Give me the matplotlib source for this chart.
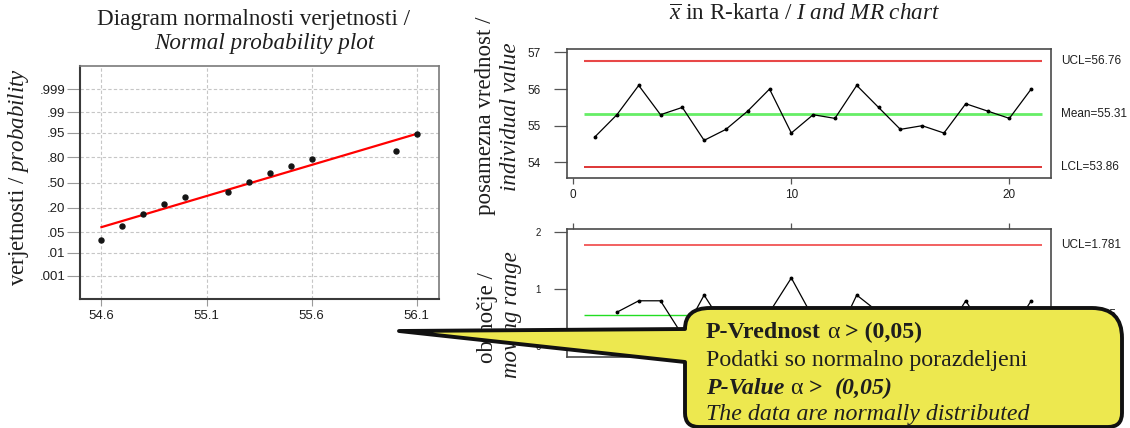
import numpy as np
import matplotlib
matplotlib.use("Agg")
import matplotlib.pyplot as plt
from matplotlib.path import Path
from matplotlib.patches import PathPatch
from matplotlib.transforms import Affine2D, blended_transform_factory
from matplotlib.ticker import NullLocator
from statistics import NormalDist

# ---------------- data ----------------
# normal probability plot
prob_x = [54.6, 54.7, 54.8, 54.9, 55.0, 55.2, 55.3, 55.4, 55.5, 55.6, 56.0, 56.1]
prob_p = [0.029, 0.075, 0.147, 0.237, 0.311, 0.377, 0.508, 0.618, 0.711, 0.782, 0.852, 0.948]
fit_x = [54.6, 56.1]
fit_p = [0.069, 0.947]
prob_ticks = [0.001, 0.01, 0.05, 0.20, 0.50, 0.80, 0.95, 0.99, 0.999]
prob_tick_labels = [".001", ".01", ".05", ".20", ".50", ".80", ".95", ".99", ".999"]
prob_x_ticks = [54.6, 55.1, 55.6, 56.1]

# individuals chart
obs = list(range(1, 22))
individual = [54.7, 55.3, 56.1, 55.3, 55.5, 54.6, 54.9, 55.4, 56.0, 54.8, 55.3,
              55.2, 56.1, 55.5, 54.9, 55.0, 54.8, 55.6, 55.4, 55.2, 56.0]
i_ucl, i_mean, i_lcl = 56.76, 55.31, 53.86
i_yticks = [54, 55, 56, 57]

# moving range chart
mr_obs = list(range(2, 22))
mr_values = [0.6, 0.8, 0.8, 0.2, 0.9, 0.3, 0.5, 0.6, 1.2, 0.5,
             0.1, 0.9, 0.6, 0.6, 0.1, 0.2, 0.8, 0.2, 0.2, 0.8]
mr_ucl, mr_mean, mr_lcl = 1.781, 0.545, 0.0
mr_yticks = [0, 1, 2]
obs_ticks = [0, 10, 20]

# ---------------- style ----------------
SERIF = "Liberation Serif"
SANS = "Liberation Sans"
plt.rcParams["mathtext.fontset"] = "custom"
plt.rcParams["mathtext.rm"] = SERIF
plt.rcParams["mathtext.it"] = SERIF + ":italic"
plt.rcParams["mathtext.bf"] = SERIF + ":bold"
plt.rcParams["font.family"] = [SANS, "DejaVu Sans"]

W, H = 1130, 428
fig = plt.figure(figsize=(W / 100, H / 100), dpi=100)
fig.patch.set_facecolor("white")


def rect(l, t, r, b):
    return [l / W, 1 - b / H, (r - l) / W, (b - t) / H]


def fx(x):
    return x / W


def fy(y):
    return 1 - y / H


TXT = "#1e1e1e"
TS = 16.7   # title size
LS = 16.5   # axis label size

# ---------------- normal probability plot ----------------
_nd = NormalDist()
_ppf = np.vectorize(lambda p: _nd.inv_cdf(p), otypes=[float])
_cdf = np.vectorize(lambda z: _nd.cdf(z), otypes=[float])


def fwd(p):
    return _ppf(np.clip(np.asarray(p, dtype=float), 1e-12, 1 - 1e-12))


def inv(z):
    return _cdf(np.asarray(z, dtype=float))


axp = fig.add_axes(rect(80, 65.7, 438.7, 299.3))
axp.set_yscale("function", functions=(fwd, inv))
axp.plot(fit_x, fit_p, color="#ff0000", lw=1.6, zorder=3)
axp.plot(prob_x, prob_p, "o", ms=3.6, color="#151515", zorder=4)
axp.set_xlim(54.498, 56.205)
axp.set_ylim(_nd.cdf(-3.88), _nd.cdf(3.88))
axp.set_yticks(prob_ticks)
axp.set_yticklabels(prob_tick_labels)
axp.yaxis.set_minor_locator(NullLocator())
axp.set_xticks(prob_x_ticks)
axp.set_xticklabels([f"{v:.1f}" for v in prob_x_ticks])
axp.grid(True, ls=(0, (3, 2)), color="#c6c6c6", lw=0.8)
axp.set_axisbelow(True)
axp.tick_params(axis="y", length=9.5, width=0.8, color="#9a9a9a", labelsize=9.5, pad=1, labelcolor=TXT)
axp.tick_params(axis="x", length=5, width=0.8, color="#9a9a9a", labelsize=9.5, pad=3, labelcolor=TXT)
for s in ["left", "bottom"]:
    axp.spines[s].set_color("#3a3a3a")
    axp.spines[s].set_linewidth(1.5)
for s in ["top", "right"]:
    axp.spines[s].set_color("#7a7a7a")
    axp.spines[s].set_linewidth(1.2)

fig.text(fx(253.5), fy(20), "Diagram normalnosti verjetnosti /", family=SERIF,
         fontsize=TS, ha="center", va="center", color=TXT)
fig.text(fx(264), fy(43), "Normal probability plot", family=SERIF, style="italic",
         fontsize=TS, ha="center", va="center", color=TXT)
fig.text(fx(19), fy(177), r"verjetnosti / $\mathit{probability}$", family=SERIF,
         fontsize=LS, rotation=90, ha="center", va="center", color=TXT)

# ---------------- individuals chart ----------------
axi = fig.add_axes(rect(566.7, 48.8, 1051, 177.7))
lim_x0, lim_x1 = 0.5, 21.5
axi.hlines(i_ucl, lim_x0, lim_x1, color="#e84848", lw=1.5, zorder=2)
axi.hlines(i_mean, lim_x0, lim_x1, color="#66ee66", lw=2.0, zorder=2)
axi.hlines(i_lcl, lim_x0, lim_x1, color="#d40000", lw=1.1, zorder=2)
axi.plot(obs, individual, color="black", lw=0.9, marker="o", ms=1.8, zorder=3)
axi.set_xlim(-0.303, 21.91)
axi.set_ylim(53.58, 57.1)
axi.set_yticks(i_yticks)
axi.set_xticks(obs_ticks)
axi.tick_params(axis="y", length=9.5, width=0.9, color="#555", labelsize=8.5, pad=9, labelcolor=TXT)
axi.tick_params(axis="x", length=4, width=0.9, color="#555", labelsize=8.5, pad=4, labelcolor=TXT)
for s in axi.spines.values():
    s.set_color("#4a4a4a")
    s.set_linewidth(1.2)

bt = blended_transform_factory(fig.transFigure, axi.transData)
for val, lab in [(i_ucl, f"UCL={i_ucl:.2f}"), (i_mean, f"Mean={i_mean:.2f}"), (i_lcl, f"LCL={i_lcl:.2f}")]:
    axi.text(fx(1061), val, lab, transform=bt, fontsize=8.5, va="center", ha="left",
             color=TXT, clip_on=False)

fig.text(fx(804.5), fy(15), r"$\overline{x}$ in R-karta / $\mathit{I\ and\ MR\ chart}$",
         family=SERIF, fontsize=TS, ha="center", va="center", color=TXT)
fig.text(fx(485), fy(116), "posamezna vrednost /", family=SERIF, fontsize=LS,
         rotation=90, ha="center", va="center", color=TXT)
fig.text(fx(511), fy(117), "individual value", family=SERIF, style="italic", fontsize=LS,
         rotation=90, ha="center", va="center", color=TXT)

# ---------------- moving range chart ----------------
axm = fig.add_axes(rect(566.7, 229.3, 1051, 356.7))
axm.hlines(mr_ucl, lim_x0, lim_x1, color="#f26060", lw=1.4, zorder=2)
axm.hlines(mr_mean, lim_x0, lim_x1, color="#22dd22", lw=1.0, zorder=2)
axm.hlines(mr_lcl, lim_x0, lim_x1, color="#d40000", lw=1.0, zorder=2)
axm.plot(mr_obs, mr_values, color="black", lw=0.9, marker="o", ms=1.8, zorder=3)
axm.set_xlim(-0.303, 21.91)
axm.set_ylim(-0.18, 2.053)
axm.set_yticks(mr_yticks)
axm.set_xticks(obs_ticks)
axm.tick_params(axis="x", top=True, bottom=False, labelbottom=False, labeltop=False,
                length=4, width=0.9, color="#555")
axm.tick_params(axis="y", length=9.5, width=0.9, color="#555", labelsize=7, pad=9, labelcolor=TXT)
for s in axm.spines.values():
    s.set_color("#4a4a4a")
    s.set_linewidth(1.2)
bt2 = blended_transform_factory(fig.transFigure, axm.transData)
for val, lab in [(mr_ucl, f"UCL={mr_ucl:.3f}"), (mr_mean, f"MR={mr_mean:.3f}")]:
    axm.text(fx(1061), val, lab, transform=bt2, fontsize=8.5, va="center", ha="left",
             color=TXT, clip_on=False)

fig.text(fx(488), fy(318), "območje /", family=SERIF, fontsize=LS,
         rotation=90, ha="center", va="center", color=TXT)
fig.text(fx(512), fy(315), "moving range", family=SERIF, style="italic", fontsize=LS,
         rotation=90, ha="center", va="center", color=TXT)

# ---------------- callout ----------------
verts = [(399, 331), (685, 329),
         (685, 308), (710, 308),
         (1092, 308),
         (1122, 308), (1122, 338),
         (1122, 413),
         (1122, 427), (1108, 427),
         (699, 427),
         (685, 427), (685, 413),
         (685, 362),
         (399, 331)]
codes = [Path.MOVETO, Path.LINETO,
         Path.CURVE3, Path.CURVE3,
         Path.LINETO,
         Path.CURVE3, Path.CURVE3,
         Path.LINETO,
         Path.CURVE3, Path.CURVE3,
         Path.LINETO,
         Path.CURVE3, Path.CURVE3,
         Path.LINETO,
         Path.CLOSEPOLY]
px2fig = Affine2D().scale(1 / W, -1 / H).translate(0, 1) + fig.transFigure
callout = PathPatch(Path(verts, codes), transform=px2fig, facecolor="#ede84f",
                    edgecolor="#111111", lw=2.8, zorder=20, joinstyle="round")
fig.add_artist(callout)

renderer = fig.canvas.get_renderer()
CS = 17.2
space_px = 0.25 * CS * 100 / 72


def seg_line(x_px, y_px, segments):
    x = x_px
    for txt, weight, style, gap in segments:
        t = fig.text(fx(x), fy(y_px), txt, family=SERIF, fontsize=CS, weight=weight,
                     style=style, ha="left", va="baseline", color=TXT, zorder=21)
        x += t.get_window_extent(renderer).width + gap * space_px


seg_line(706, 338, [("P-Vrednost", "bold", "normal", 1), ("α", "normal", "normal", 1),
                    ("> (0,05)", "bold", "normal", 0)])
seg_line(706, 366, [("Podatki so normalno porazdeljeni", "normal", "normal", 0)])
seg_line(706, 394, [("P-Value", "bold", "italic", 1), ("α", "normal", "normal", 1),
                    (">", "bold", "normal", 2), ("(0,05)", "bold", "italic", 0)])
seg_line(706, 420, [("The data are normally distributed", "normal", "italic", 0)])

fig.savefig("out.png", dpi=100, facecolor="white")
